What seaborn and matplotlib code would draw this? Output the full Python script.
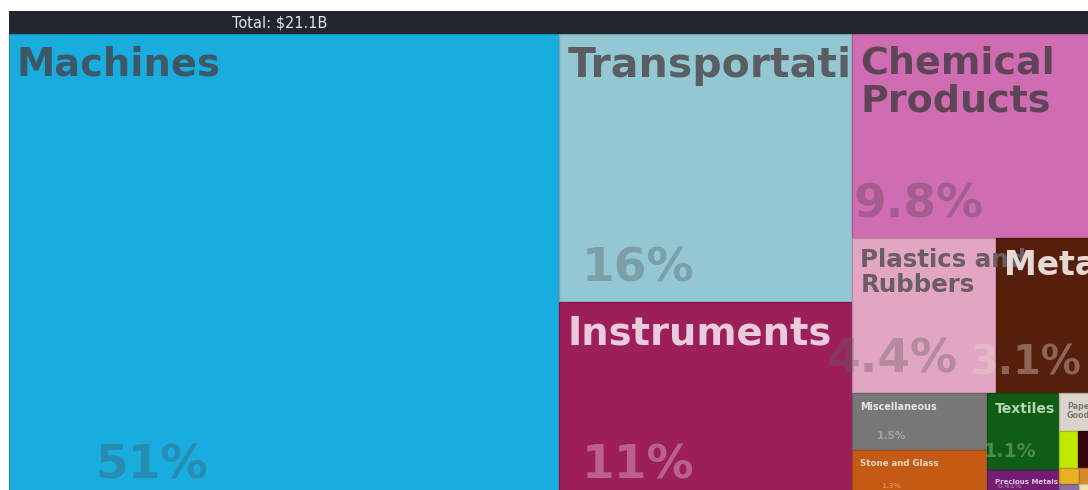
import matplotlib
matplotlib.use("Agg")
import matplotlib.pyplot as plt
import matplotlib.colors as mcolors
import seaborn as sns

# ---------------- data ----------------
total_label = "Total: $21.1B"
categories = ["Machines", "Transportation", "Instruments", "Chemical Products",
              "Plastics and Rubbers", "Metals", "Miscellaneous", "Stone and Glass",
              "Textiles", "Precious Metals", "Paper Goods", "Foodstuffs",
              "Mineral Products", "Vegetable Products", "Footwear and Headwear",
              "Wood Products", "Animal Hides"]
values = [50.8, 15.6, 11.45, 9.84, 4.42, 3.1, 1.53, 1.3, 1.1, 0.41, 0.28,
          0.14, 0.13, 0.066, 0.058, 0.054, 0.052]
display_labels = ["Machines", "Transportation", "Instruments", "Chemical\nProducts",
                  "Plastics and\nRubbers", "Metals", "Miscellaneous", "Stone and Glass",
                  "Textiles", "Precious Metals", "Paper\nGoods", "", "", "", "", "", ""]

# ---------------- style ----------------
fill_colors = ["#19addf", "#93c7d4", "#9c1f5a", "#d06db2", "#e2a6c3", "#561f0c",
               "#777777", "#c45a13", "#0f5c14", "#721f73", "#dad4cb", "#c0e800",
               "#3a0205", "#e8b122", "#8a70a0", "#d98a30", "#f3e3a6"]
text_colors = ["#3d5767", "#5a5e62", "#eacbdc", "#5f4457", "#6b5d65", "#e6d8d2",
               "#e6e6e6", "#f3d9c6", "#b8d4b4", "#e3c6e4", "#7a7874", "#444444",
               "#dddddd", "#444444", "#eeeeee", "#444444", "#444444"]
label_px = [38.5, 41, 38.5, 38, 24.5, 33, 9.6, 8.7, 14, 7, 8, 0, 0, 0, 0, 0, 0]
pct_px = [47, 47, 47, 47, 47, 40, 10.5, 7, 19, 7, 0, 0, 0, 0, 0, 0, 0]

W_PX, H_PX = 1087, 465     # treemap extent in pixels (partly cropped by the figure)
FIG_W, FIG_H = 1088, 490
LEFT, TOP = 9, 34

sns.set_theme(style="white")
plt.rcParams["font.family"] = ["DejaVu Sans"]


def squarify(vals, x0, y0, x1, y1, ratio=(1 + 5 ** 0.5) / 2):
    """d3-style squarified treemap layout."""
    rects = [None] * len(vals)
    n = len(vals)
    i0 = i1 = 0
    value = float(sum(vals))
    while i0 < n:
        dx, dy = x1 - x0, y1 - y0
        sum_v = vals[i1]
        i1 += 1
        min_v = max_v = sum_v
        alpha = max(dy / dx, dx / dy) / (value * ratio)
        beta = sum_v * sum_v * alpha
        min_ratio = max(max_v / beta, beta / min_v)
        while i1 < n:
            nv = vals[i1]
            s = sum_v + nv
            mn, mx = min(min_v, nv), max(max_v, nv)
            beta = s * s * alpha
            nr = max(mx / beta, beta / mn)
            if nr > min_ratio:
                break
            sum_v, min_v, max_v, min_ratio = s, mn, mx, nr
            i1 += 1
        row = range(i0, i1)
        if dx < dy:
            ny = y0 + dy * sum_v / value if i1 < n else y1
            k = (x1 - x0) / sum_v
            xx = x0
            for i in row:
                rects[i] = (xx, y0, xx + vals[i] * k, ny)
                xx += vals[i] * k
            y0 = ny
        else:
            nx = x0 + dx * sum_v / value if i1 < n else x1
            k = (y1 - y0) / sum_v
            yy = y0
            for i in row:
                rects[i] = (x0, yy, nx, yy + vals[i] * k)
                yy += vals[i] * k
            x0 = nx
        value -= sum_v
        i0 = i1
    return rects


rects = squarify(values, 0, 0, W_PX, H_PX)
total = sum(values)

fig = plt.figure(figsize=(FIG_W / 100, FIG_H / 100), dpi=100)
fig.patch.set_facecolor("white")

# header bar
axh = fig.add_axes([LEFT / FIG_W, (FIG_H - TOP) / FIG_H, W_PX / FIG_W, 23 / FIG_H])
axh.set_facecolor("#212631")
axh.set_xlim(0, W_PX)
axh.set_ylim(0, 1)
axh.set_xticks([])
axh.set_yticks([])
for sp in axh.spines.values():
    sp.set_visible(False)
axh.text(232 - LEFT, 0.5, total_label, color="#e6e6e6", fontsize=14.5 * 0.72,
         ha="left", va="center")

# treemap
ax = fig.add_axes([LEFT / FIG_W, (FIG_H - TOP - H_PX) / FIG_H, W_PX / FIG_W, H_PX / FIG_H])
ax.set_xlim(0, W_PX)
ax.set_ylim(H_PX, 0)
ax.set_axis_off()

xs = [r[0] for r in rects]
ys = [r[1] for r in rects]
ws = [r[2] - r[0] for r in rects]
hs = [r[3] - r[1] for r in rects]
edges = [tuple(c * 0.82 for c in mcolors.to_rgb(f)) for f in fill_colors]
bars = ax.bar(xs, hs, width=ws, bottom=ys, align="edge", color=fill_colors,
              edgecolor=edges, linewidth=0.9)

for i, (x0, y0, x1, y1) in enumerate(rects):
    w = x1 - x0
    if label_px[i] > 0 and display_labels[i]:
        fs = label_px[i]
        single = "\n" not in display_labels[i]
        t = ax.text(x0 + 8, y0 + 8 + 0.1 * fs, display_labels[i], fontsize=fs * 0.72,
                    fontweight="bold", color=text_colors[i], ha="left", va="top",
                    linespacing=1.05, zorder=5, clip_on=single)
        if single:
            t.set_clip_path(bars.patches[i])
    if pct_px[i] > 0:
        fs = pct_px[i]
        pct = 100 * values[i] / total
        ax.text(x0 + 0.25 * w + 5, y1 - (9 + 0.24 * fs), f"{pct:.2g}%",
                fontsize=fs * 0.72, fontweight="bold", color=text_colors[i],
                alpha=0.38, ha="center", va="baseline", zorder=4)

fig.savefig("out.png", dpi=100)
